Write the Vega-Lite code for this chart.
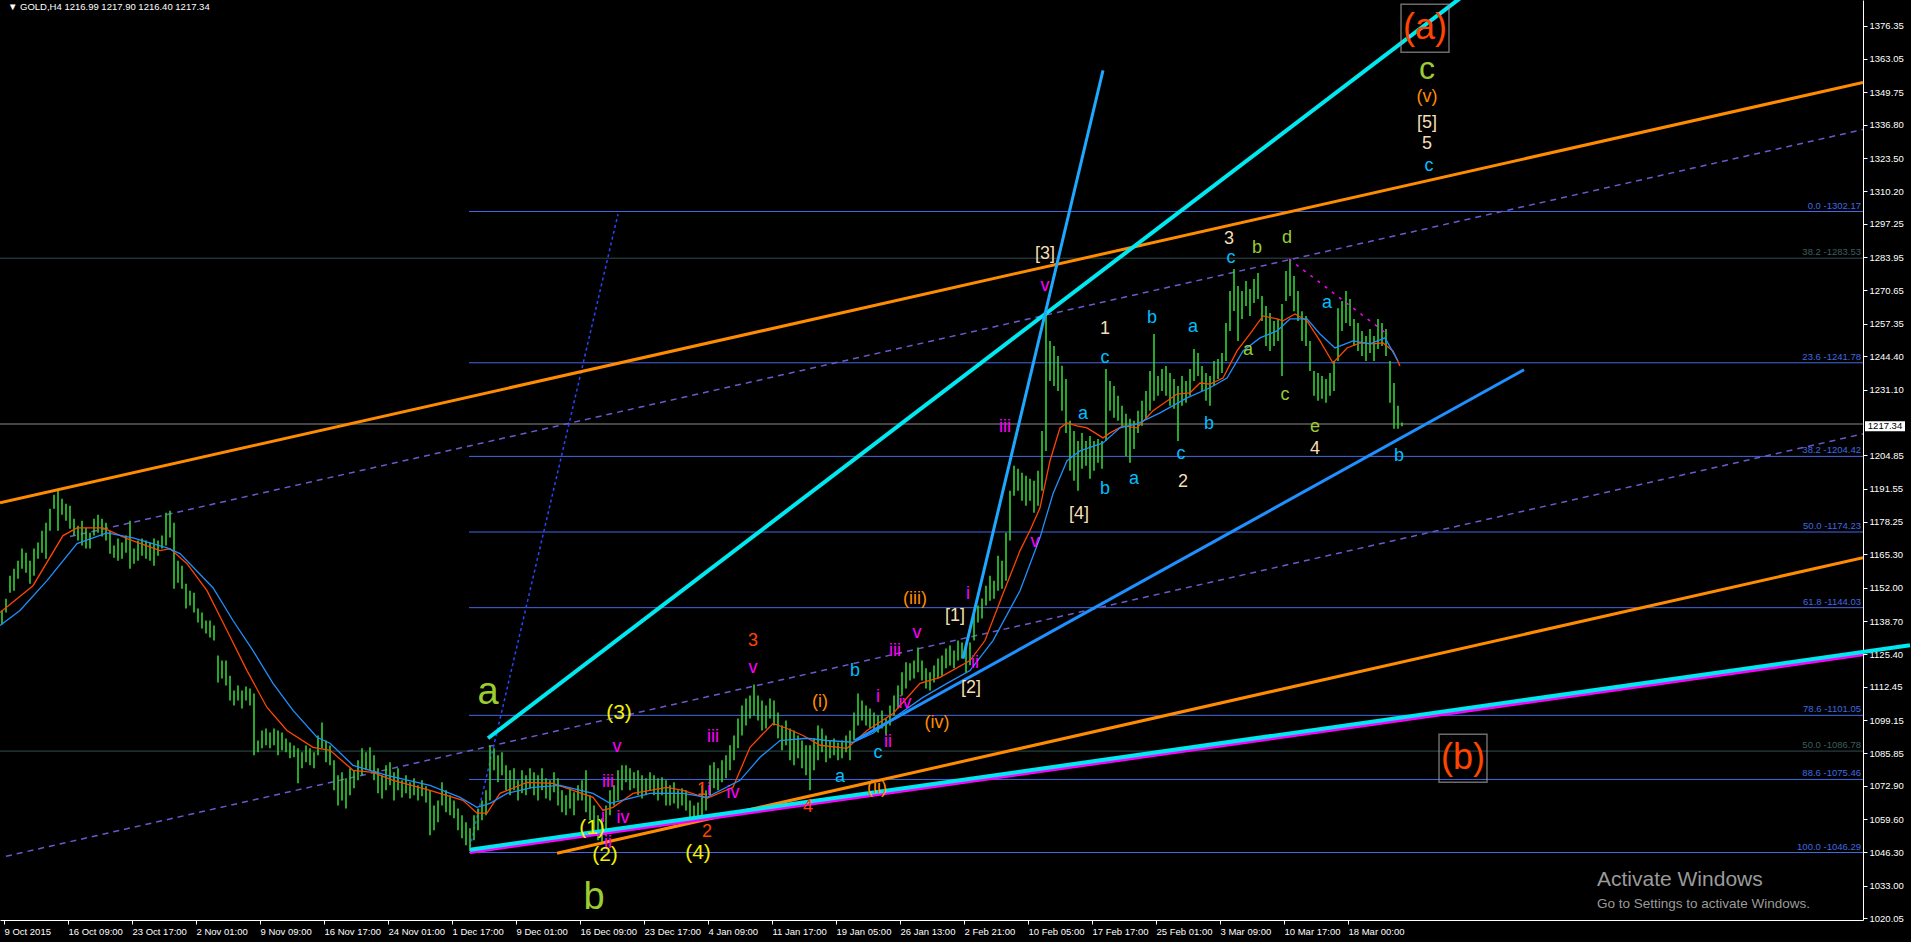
{
"$schema": "https://vega.github.io/schema/vega-lite/v6.json",
"width": 1863, "height": 920,
"autosize": {"type": "none"},
"padding": {"left": 0, "top": 0, "right": 48, "bottom": 22},
"background": "#000000",
"config": {"view": {"stroke": null}, "font": "Liberation Sans",
 "axis": {"domainColor": "#ffffff", "tickColor": "#ffffff", "labelColor": "#ffffff", "grid": false, "labelFont": "Liberation Sans", "labelFontSize": 9.5, "tickSize": 4, "labelPadding": 2, "titleColor": "#ffffff"}},
"encoding": {
"x": {"field": "t", "type": "quantitative", "scale": {"domain": [0, 931.5], "nice": false, "zero": false},
 "axis": {"orient": "bottom", "title": null, "values": [2,34,66,98,130,162,194,226,258,290,322,354,386,418,450,482,514,546,578,610,642,674],
  "labelExpr": "['9 Oct 2015','16 Oct 09:00','23 Oct 17:00','2 Nov 01:00','9 Nov 09:00','16 Nov 17:00','24 Nov 01:00','1 Dec 17:00','9 Dec 01:00','16 Dec 09:00','23 Dec 17:00','4 Jan 09:00','11 Jan 17:00','19 Jan 05:00','26 Jan 13:00','2 Feb 21:00','10 Feb 05:00','17 Feb 17:00','25 Feb 01:00','3 Mar 09:00','10 Mar 17:00','18 Mar 00:00'][round((datum.value-2)/32)]",
  "labelAlign": "left", "labelBaseline": "top", "labelOverlap": false}},
"y": {"field": "p", "type": "quantitative", "scale": {"domain": [1019.35, 1386.6], "nice": false, "zero": false},
 "axis": {"orient": "right", "title": null, "values": [1376.35,1363.05,1349.75,1336.80,1323.50,1310.20,1297.25,1283.95,1270.65,1257.35,1244.40,1231.10,1204.85,1191.55,1178.25,1165.30,1152.00,1138.70,1125.40,1112.45,1099.15,1085.85,1072.90,1059.60,1046.30,1033.00,1020.05],
  "format": ".2f", "labelOverlap": false, "labelAlign": "left"}}
},
"datasets": {
"bars": [
{"t":1,"p":1142.9,"l":1137.3},{"t":3,"p":1147.6,"l":1142.1},{"t":5,"p":1156.8,"l":1150.0},{"t":7,"p":1159.6,"l":1150.8},{"t":9,"p":1162.8,"l":1155.6},{"t":11,"p":1167.6,"l":1159.6},{"t":13,"p":1166.0,"l":1158.0},{"t":15,"p":1162.8,"l":1153.6},{"t":17,"p":1167.6,"l":1156.8},{"t":19,"p":1170.0,"l":1163.6},
{"t":21,"p":1174.7,"l":1166.0},{"t":23,"p":1177.9,"l":1163.6},{"t":25,"p":1183.5,"l":1174.7},{"t":27,"p":1189.1,"l":1183.5},{"t":29,"p":1191.5,"l":1174.7},{"t":31,"p":1187.5,"l":1181.1},{"t":33,"p":1185.5,"l":1178.7},{"t":35,"p":1184.7,"l":1175.5},{"t":37,"p":1179.5,"l":1172.8},{"t":39,"p":1176.7,"l":1170.8},
{"t":41,"p":1178.7,"l":1168.8},{"t":43,"p":1175.9,"l":1167.6},{"t":45,"p":1173.9,"l":1167.6},{"t":47,"p":1179.5,"l":1172.8},{"t":49,"p":1181.1,"l":1173.9},{"t":51,"p":1179.5,"l":1172.4},{"t":53,"p":1177.9,"l":1170.8},{"t":55,"p":1174.7,"l":1165.6},{"t":57,"p":1168.8,"l":1164.0},{"t":59,"p":1171.6,"l":1162.8},
{"t":61,"p":1170.0,"l":1163.6},{"t":63,"p":1172.8,"l":1166.0},{"t":65,"p":1178.7,"l":1159.6},{"t":67,"p":1167.6,"l":1161.6},{"t":69,"p":1170.8,"l":1162.8},{"t":71,"p":1171.6,"l":1164.8},{"t":73,"p":1170.8,"l":1163.6},{"t":75,"p":1170.0,"l":1162.8},{"t":77,"p":1171.6,"l":1160.8},{"t":79,"p":1170.8,"l":1164.8},
{"t":81,"p":1172.8,"l":1167.6},{"t":83,"p":1181.9,"l":1168.8},{"t":85,"p":1182.7,"l":1172.0},{"t":87,"p":1177.9,"l":1151.6},{"t":89,"p":1162.8,"l":1154.0},{"t":91,"p":1160.8,"l":1151.6},{"t":93,"p":1153.6,"l":1143.7},{"t":95,"p":1150.8,"l":1144.9},{"t":97,"p":1150.0,"l":1142.1},{"t":99,"p":1143.7,"l":1138.1},
{"t":101,"p":1142.1,"l":1135.7},{"t":103,"p":1138.9,"l":1133.7},{"t":105,"p":1138.9,"l":1132.1},{"t":107,"p":1136.9,"l":1130.9},{"t":109,"p":1124.9,"l":1114.2},{"t":111,"p":1122.9,"l":1115.8},{"t":113,"p":1122.9,"l":1113.0},{"t":115,"p":1116.9,"l":1107.0},{"t":117,"p":1111.0,"l":1105.0},{"t":119,"p":1113.0,"l":1107.0},
{"t":121,"p":1111.0,"l":1103.8},{"t":123,"p":1112.6,"l":1107.0},{"t":125,"p":1111.8,"l":1105.0},{"t":127,"p":1109.8,"l":1085.1},{"t":129,"p":1091.0,"l":1086.3},{"t":131,"p":1095.0,"l":1087.9},{"t":133,"p":1095.8,"l":1089.1},{"t":135,"p":1094.2,"l":1087.9},{"t":137,"p":1095.8,"l":1089.1},{"t":139,"p":1095.0,"l":1085.1},
{"t":141,"p":1094.2,"l":1087.1},{"t":143,"p":1091.8,"l":1086.3},{"t":145,"p":1090.2,"l":1083.9},{"t":147,"p":1089.0,"l":1084.3},{"t":149,"p":1087.9,"l":1073.9},{"t":151,"p":1086.3,"l":1079.9},{"t":153,"p":1089.0,"l":1082.3},{"t":155,"p":1087.9,"l":1081.1},{"t":157,"p":1086.3,"l":1079.9},{"t":159,"p":1093.0,"l":1085.1},
{"t":161,"p":1098.2,"l":1087.9},{"t":163,"p":1091.0,"l":1082.3},{"t":165,"p":1089.0,"l":1081.1},{"t":167,"p":1083.1,"l":1071.1},{"t":169,"p":1077.1,"l":1065.1},{"t":171,"p":1078.3,"l":1067.1},{"t":173,"p":1075.9,"l":1063.9},{"t":175,"p":1079.9,"l":1069.1},{"t":177,"p":1079.1,"l":1071.9},{"t":179,"p":1083.1,"l":1075.1},
{"t":181,"p":1087.9,"l":1077.1},{"t":183,"p":1086.3,"l":1079.1},{"t":185,"p":1088.3,"l":1079.1},{"t":187,"p":1085.1,"l":1075.1},{"t":189,"p":1079.9,"l":1069.9},{"t":191,"p":1077.1,"l":1067.9},{"t":193,"p":1081.1,"l":1071.1},{"t":195,"p":1082.3,"l":1073.1},{"t":197,"p":1078.3,"l":1067.1},{"t":199,"p":1079.9,"l":1071.1},
{"t":201,"p":1075.1,"l":1068.3},{"t":203,"p":1077.1,"l":1069.9},{"t":205,"p":1074.3,"l":1067.9},{"t":207,"p":1075.9,"l":1069.1},{"t":209,"p":1073.1,"l":1067.1},{"t":211,"p":1075.1,"l":1068.7},{"t":213,"p":1072.7,"l":1066.3},{"t":215,"p":1071.1,"l":1053.2},{"t":217,"p":1065.1,"l":1055.2},{"t":219,"p":1067.1,"l":1058.4},
{"t":221,"p":1074.3,"l":1065.1},{"t":223,"p":1071.1,"l":1062.4},{"t":225,"p":1069.1,"l":1061.2},{"t":227,"p":1067.1,"l":1060.0},{"t":229,"p":1063.9,"l":1055.2},{"t":231,"p":1061.2,"l":1052.0},{"t":233,"p":1058.4,"l":1049.2},{"t":235,"p":1056.0,"l":1046.8},{"t":237,"p":1061.2,"l":1051.2},{"t":239,"p":1063.9,"l":1055.2},
{"t":241,"p":1067.1,"l":1059.2},{"t":243,"p":1071.1,"l":1061.2},{"t":245,"p":1089.1,"l":1067.1},{"t":247,"p":1087.9,"l":1079.1},{"t":249,"p":1085.1,"l":1074.3},{"t":251,"p":1086.3,"l":1077.1},{"t":253,"p":1081.1,"l":1071.1},{"t":255,"p":1079.1,"l":1069.1},{"t":257,"p":1079.9,"l":1071.1},{"t":259,"p":1075.1,"l":1067.1},
{"t":261,"p":1079.1,"l":1069.9},{"t":263,"p":1077.1,"l":1069.1},{"t":265,"p":1079.9,"l":1071.9},{"t":267,"p":1078.3,"l":1069.1},{"t":269,"p":1077.1,"l":1067.1},{"t":271,"p":1079.9,"l":1071.1},{"t":273,"p":1075.9,"l":1067.9},{"t":275,"p":1075.1,"l":1067.1},{"t":277,"p":1078.3,"l":1070.3},{"t":279,"p":1075.9,"l":1065.1},
{"t":281,"p":1071.1,"l":1062.4},{"t":283,"p":1069.1,"l":1061.2},{"t":285,"p":1071.9,"l":1063.9},{"t":287,"p":1070.3,"l":1061.2},{"t":289,"p":1073.1,"l":1067.1},{"t":291,"p":1075.1,"l":1067.1},{"t":293,"p":1079.1,"l":1062.4},{"t":295,"p":1069.1,"l":1059.2},{"t":297,"p":1065.1,"l":1055.2},{"t":299,"p":1061.2,"l":1051.2},
{"t":301,"p":1060.0,"l":1050.0},{"t":303,"p":1065.1,"l":1053.2},{"t":305,"p":1071.1,"l":1061.2},{"t":307,"p":1073.1,"l":1065.1},{"t":309,"p":1079.1,"l":1067.1},{"t":311,"p":1081.1,"l":1071.1},{"t":313,"p":1081.1,"l":1074.3},{"t":315,"p":1079.9,"l":1071.1},{"t":317,"p":1078.3,"l":1071.9},{"t":319,"p":1079.1,"l":1069.1},
{"t":321,"p":1077.1,"l":1067.9},{"t":323,"p":1075.9,"l":1069.1},{"t":325,"p":1078.3,"l":1071.1},{"t":327,"p":1077.1,"l":1069.1},{"t":329,"p":1075.9,"l":1067.1},{"t":331,"p":1076.3,"l":1069.1},{"t":333,"p":1075.1,"l":1065.1},{"t":335,"p":1073.1,"l":1065.1},{"t":337,"p":1074.3,"l":1065.9},{"t":339,"p":1071.1,"l":1063.9},
{"t":341,"p":1071.9,"l":1065.1},{"t":343,"p":1071.1,"l":1063.1},{"t":345,"p":1067.1,"l":1060.0},{"t":347,"p":1065.1,"l":1059.2},{"t":349,"p":1066.3,"l":1060.0},{"t":351,"p":1073.1,"l":1061.2},{"t":353,"p":1071.1,"l":1063.1},{"t":355,"p":1081.1,"l":1069.1},{"t":357,"p":1082.3,"l":1071.9},{"t":359,"p":1079.9,"l":1071.1},
{"t":361,"p":1083.1,"l":1074.3},{"t":363,"p":1085.1,"l":1075.9},{"t":365,"p":1089.1,"l":1079.1},{"t":367,"p":1093.0,"l":1083.1},{"t":369,"p":1099.8,"l":1087.9},{"t":371,"p":1105.0,"l":1093.0},{"t":373,"p":1107.8,"l":1097.0},{"t":375,"p":1109.0,"l":1099.8},{"t":377,"p":1113.4,"l":1101.0},{"t":379,"p":1109.0,"l":1099.0},
{"t":381,"p":1107.0,"l":1095.0},{"t":383,"p":1105.0,"l":1095.8},{"t":385,"p":1107.8,"l":1099.8},{"t":387,"p":1107.0,"l":1097.0},{"t":389,"p":1102.2,"l":1091.9},{"t":391,"p":1097.0,"l":1087.1},{"t":393,"p":1099.0,"l":1089.1},{"t":395,"p":1095.8,"l":1083.1},{"t":397,"p":1095.0,"l":1081.1},{"t":399,"p":1093.0,"l":1083.9},
{"t":401,"p":1091.0,"l":1079.9},{"t":403,"p":1089.1,"l":1077.1},{"t":405,"p":1089.1,"l":1071.1},{"t":407,"p":1091.9,"l":1079.1},{"t":409,"p":1097.0,"l":1083.1},{"t":411,"p":1095.8,"l":1086.3},{"t":413,"p":1093.0,"l":1082.3},{"t":415,"p":1091.0,"l":1083.9},{"t":417,"p":1091.8,"l":1085.1},{"t":419,"p":1090.2,"l":1083.1},
{"t":421,"p":1091.0,"l":1083.9},{"t":423,"p":1093.0,"l":1086.3},{"t":425,"p":1095.0,"l":1083.1},{"t":427,"p":1102.2,"l":1091.0},{"t":429,"p":1109.8,"l":1097.0},{"t":431,"p":1107.0,"l":1099.0},{"t":433,"p":1105.0,"l":1097.0},{"t":435,"p":1103.8,"l":1095.8},{"t":437,"p":1102.2,"l":1095.0},{"t":439,"p":1101.0,"l":1094.2},
{"t":441,"p":1103.0,"l":1095.8},{"t":443,"p":1099.8,"l":1093.0},{"t":445,"p":1105.0,"l":1097.0},{"t":447,"p":1109.0,"l":1101.0},{"t":449,"p":1113.0,"l":1103.8},{"t":451,"p":1118.2,"l":1109.0},{"t":453,"p":1122.2,"l":1111.8},{"t":455,"p":1121.8,"l":1115.0},{"t":457,"p":1122.9,"l":1115.8},{"t":459,"p":1128.1,"l":1118.2},
{"t":461,"p":1122.9,"l":1115.0},{"t":463,"p":1119.8,"l":1111.8},{"t":465,"p":1118.2,"l":1111.0},{"t":467,"p":1120.9,"l":1114.2},{"t":469,"p":1123.7,"l":1115.8},{"t":471,"p":1124.9,"l":1116.9},{"t":473,"p":1127.7,"l":1119.8},{"t":475,"p":1128.9,"l":1120.9},{"t":477,"p":1126.9,"l":1119.8},{"t":479,"p":1130.9,"l":1122.9},
{"t":481,"p":1130.1,"l":1123.7},{"t":483,"p":1128.9,"l":1118.0},{"t":485,"p":1130.1,"l":1121.0},{"t":487,"p":1142.9,"l":1130.9},{"t":489,"p":1144.9,"l":1138.1},{"t":491,"p":1147.7,"l":1139.7},{"t":493,"p":1152.8,"l":1144.9},{"t":495,"p":1156.8,"l":1146.8},{"t":497,"p":1154.8,"l":1147.6},{"t":499,"p":1164.8,"l":1150.8},
{"t":501,"p":1162.8,"l":1151.6},{"t":503,"p":1173.9,"l":1154.8},{"t":505,"p":1190.7,"l":1170.8},{"t":507,"p":1200.7,"l":1188.7},{"t":509,"p":1199.5,"l":1190.7},{"t":511,"p":1197.9,"l":1186.7},{"t":513,"p":1196.7,"l":1184.7},{"t":515,"p":1195.5,"l":1186.7},{"t":517,"p":1194.7,"l":1181.9},{"t":519,"p":1198.7,"l":1184.7},
{"t":521,"p":1214.6,"l":1190.7},{"t":523,"p":1262.5,"l":1206.6},{"t":525,"p":1250.5,"l":1234.5},{"t":527,"p":1248.5,"l":1232.5},{"t":529,"p":1244.5,"l":1230.5},{"t":531,"p":1240.6,"l":1222.6},{"t":533,"p":1235.3,"l":1213.8},{"t":535,"p":1218.6,"l":1198.7},{"t":537,"p":1214.6,"l":1194.7},{"t":539,"p":1210.6,"l":1190.7},
{"t":541,"p":1213.8,"l":1199.5},{"t":543,"p":1210.6,"l":1200.7},{"t":545,"p":1212.6,"l":1195.5},{"t":547,"p":1210.6,"l":1198.7},{"t":549,"p":1211.4,"l":1201.9},{"t":551,"p":1210.6,"l":1199.5},{"t":553,"p":1239.3,"l":1210.6},{"t":555,"p":1234.5,"l":1222.6},{"t":557,"p":1232.5,"l":1219.8},{"t":559,"p":1228.6,"l":1218.6},
{"t":561,"p":1224.6,"l":1216.6},{"t":563,"p":1221.4,"l":1204.6},{"t":565,"p":1219.4,"l":1201.9},{"t":567,"p":1218.6,"l":1207.4},{"t":569,"p":1222.6,"l":1213.8},{"t":571,"p":1226.6,"l":1216.6},{"t":573,"p":1230.5,"l":1219.4},{"t":575,"p":1238.5,"l":1222.6},{"t":577,"p":1253.3,"l":1226.6},{"t":579,"p":1236.5,"l":1228.6},
{"t":581,"p":1239.3,"l":1230.5},{"t":583,"p":1240.5,"l":1228.6},{"t":585,"p":1237.7,"l":1224.6},{"t":587,"p":1235.3,"l":1223.4},{"t":589,"p":1232.5,"l":1210.6},{"t":591,"p":1236.5,"l":1224.6},{"t":593,"p":1234.5,"l":1225.8},{"t":595,"p":1239.3,"l":1228.6},{"t":597,"p":1247.3,"l":1234.5},{"t":599,"p":1245.7,"l":1236.5},
{"t":601,"p":1240.5,"l":1230.5},{"t":603,"p":1237.7,"l":1226.6},{"t":605,"p":1236.5,"l":1224.6},{"t":607,"p":1242.5,"l":1232.5},{"t":609,"p":1243.3,"l":1235.3},{"t":611,"p":1245.7,"l":1237.7},{"t":613,"p":1257.7,"l":1242.5},{"t":615,"p":1270.4,"l":1254.5},{"t":617,"p":1279.2,"l":1262.5},{"t":619,"p":1272.4,"l":1250.5},
{"t":621,"p":1270.4,"l":1259.3},{"t":623,"p":1274.4,"l":1264.4},{"t":625,"p":1271.2,"l":1260.5},{"t":627,"p":1275.2,"l":1265.6},{"t":629,"p":1277.6,"l":1267.2},{"t":631,"p":1268.4,"l":1258.5},{"t":633,"p":1264.4,"l":1248.5},{"t":635,"p":1261.7,"l":1246.5},{"t":637,"p":1258.5,"l":1248.5},{"t":639,"p":1259.3,"l":1250.5},
{"t":641,"p":1265.2,"l":1236.5},{"t":643,"p":1278.4,"l":1266.4},{"t":645,"p":1283.2,"l":1268.4},{"t":647,"p":1276.4,"l":1262.4},{"t":649,"p":1270.4,"l":1258.5},{"t":651,"p":1262.4,"l":1250.5},{"t":653,"p":1260.5,"l":1248.5},{"t":655,"p":1250.5,"l":1238.5},{"t":657,"p":1238.5,"l":1228.6},{"t":659,"p":1237.7,"l":1226.6},
{"t":661,"p":1236.5,"l":1227.4},{"t":663,"p":1235.3,"l":1225.8},{"t":665,"p":1237.7,"l":1228.6},{"t":667,"p":1242.5,"l":1230.5},{"t":669,"p":1263.6,"l":1242.5},{"t":671,"p":1266.4,"l":1254.5},{"t":673,"p":1270.4,"l":1257.7},{"t":675,"p":1267.2,"l":1256.5},{"t":677,"p":1259.3,"l":1248.5},{"t":679,"p":1257.7,"l":1246.5},
{"t":681,"p":1254.5,"l":1244.5},{"t":683,"p":1252.5,"l":1242.5},{"t":685,"p":1255.3,"l":1245.7},{"t":687,"p":1252.5,"l":1242.5},{"t":689,"p":1259.3,"l":1247.3},{"t":691,"p":1257.7,"l":1248.5},{"t":693,"p":1255.3,"l":1244.5},{"t":695,"p":1242.5,"l":1225.8},{"t":697,"p":1233.7,"l":1215.4},{"t":699,"p":1224.6,"l":1215.4},
{"t":701,"p":1217.9,"l":1216.4}
],
"mar": [
{"t":0,"p":1142.1},{"t":16.5,"p":1152.8},{"t":31.5,"p":1172.8},{"t":38.5,"p":1175.9},{"t":51.5,"p":1175.9},{"t":63.5,"p":1171.6},{"t":80,"p":1166.8},{"t":85,"p":1167.6},{"t":93.5,"p":1161.6},{"t":103.5,"p":1150.8},{"t":113.5,"p":1134.9},{"t":123.5,"p":1118.9},{"t":133.5,"p":1104.2},{"t":143.5,"p":1095.0},{"t":156.5,"p":1088.3},{"t":165,"p":1087.1},{"t":176.5,"p":1079.1},{"t":186.5,"p":1078.3},{"t":196.5,"p":1075.1},{"t":215,"p":1071.1},{"t":231.5,"p":1067.1},{"t":238.5,"p":1062.0},{"t":243.5,"p":1062.0},{"t":250,"p":1069.9},{"t":263.5,"p":1074.3},{"t":276.5,"p":1073.9},{"t":286.5,"p":1071.1},{"t":296.5,"p":1068.3},{"t":301.5,"p":1063.1},{"t":306.5,"p":1064.3},{"t":316.5,"p":1069.9},{"t":325,"p":1071.1},{"t":333.5,"p":1072.3},{"t":341.5,"p":1071.1},{"t":353.5,"p":1067.9},{"t":366.5,"p":1072.3},{"t":375,"p":1088.3},{"t":386.5,"p":1097.8},{"t":393.5,"p":1095.8},{"t":401.5,"p":1093.0},{"t":410,"p":1089.1},{"t":423.5,"p":1087.9},{"t":433.5,"p":1095.0},{"t":446.5,"p":1101.8},{"t":460,"p":1113.8},{"t":470,"p":1116.2},{"t":485,"p":1122.9},{"t":492.5,"p":1130.9},{"t":501.5,"p":1149.6},{"t":510,"p":1166.8},{"t":515,"p":1174.8},{"t":520,"p":1183.9},{"t":525,"p":1202.7},{"t":530,"p":1215.8},{"t":533.5,"p":1217.8},{"t":538.5,"p":1216.6},{"t":543.5,"p":1215.8},{"t":551.5,"p":1211.8},{"t":555,"p":1213.8},{"t":561.5,"p":1216.6},{"t":568.5,"p":1215.8},{"t":576.5,"p":1222.6},{"t":588.5,"p":1229.3},{"t":595,"p":1229.8},{"t":600,"p":1233.7},{"t":605,"p":1233.3},{"t":611.5,"p":1235.7},{"t":618.5,"p":1246.5},{"t":625,"p":1253.3},{"t":631.5,"p":1260.5},{"t":638.5,"p":1259.3},{"t":641.5,"p":1258.5},{"t":647.5,"p":1261.3},{"t":653.5,"p":1258.5},{"t":660,"p":1250.5},{"t":666.5,"p":1241.7},{"t":673.5,"p":1247.7},{"t":680,"p":1249.7},{"t":686.5,"p":1249.3},{"t":691.5,"p":1249.7},{"t":696.5,"p":1246.5},{"t":700,"p":1240.5}
],
"mab": [
{"t":0,"p":1136.9},{"t":10,"p":1142.9},{"t":23.5,"p":1154.8},{"t":38.5,"p":1169.6},{"t":53.5,"p":1173.9},{"t":66.5,"p":1171.9},{"t":83.5,"p":1167.9},{"t":90,"p":1165.6},{"t":106.5,"p":1152.0},{"t":116.5,"p":1138.9},{"t":126.5,"p":1126.9},{"t":136.5,"p":1113.8},{"t":146.5,"p":1103.0},{"t":158.5,"p":1092.3},{"t":165,"p":1089.9},{"t":176.5,"p":1081.1},{"t":193.5,"p":1077.1},{"t":215,"p":1073.1},{"t":230,"p":1068.3},{"t":238.5,"p":1064.3},{"t":245,"p":1065.9},{"t":253.5,"p":1069.9},{"t":266.5,"p":1072.3},{"t":280,"p":1073.1},{"t":296.5,"p":1069.9},{"t":305,"p":1065.9},{"t":315,"p":1067.9},{"t":325,"p":1069.9},{"t":341.5,"p":1069.9},{"t":353.5,"p":1068.3},{"t":370,"p":1075.1},{"t":380,"p":1084.3},{"t":390,"p":1091.0},{"t":403.5,"p":1091.9},{"t":413.5,"p":1091.0},{"t":426.5,"p":1090.3},{"t":436.5,"p":1093.9},{"t":450,"p":1101.8},{"t":461.5,"p":1108.2},{"t":473.5,"p":1113.8},{"t":485,"p":1118.9},{"t":496.5,"p":1130.9},{"t":510,"p":1150.8},{"t":520,"p":1172.0},{"t":526.5,"p":1189.5},{"t":533.5,"p":1202.7},{"t":540,"p":1206.6},{"t":551.5,"p":1209.8},{"t":560,"p":1215.8},{"t":568.5,"p":1217.4},{"t":580,"p":1221.8},{"t":593.5,"p":1227.8},{"t":605,"p":1231.8},{"t":613.5,"p":1235.7},{"t":621.5,"p":1246.5},{"t":630,"p":1251.7},{"t":638.5,"p":1254.5},{"t":645,"p":1259.3},{"t":653.5,"p":1259.3},{"t":660,"p":1253.3},{"t":667.5,"p":1247.7},{"t":676.5,"p":1250.5},{"t":685,"p":1249.3},{"t":692.5,"p":1251.7},{"t":699,"p":1242.5}
],
"labels": [
{"t":308.5,"p":1088.3,"s":"v","k":"mag"},{"t":304,"p":1074.3,"s":"iii","k":"mag"},{"t":311.5,"p":1060.0,"s":"iv","k":"mag"},{"t":301.5,"p":1060.4,"s":"i","k":"mag"},{"t":304,"p":1050.0,"s":"ii","k":"mag"},
{"t":376.5,"p":1130.9,"s":"3","k":"red"},{"t":376.5,"p":1119.8,"s":"v","k":"mag"},{"t":427.5,"p":1118.9,"s":"b","k":"sky"},{"t":410,"p":1106.2,"s":"(i)","k":"org"},{"t":439,"p":1108.2,"s":"i","k":"mag"},
{"t":356.5,"p":1092.3,"s":"iii","k":"mag"},{"t":452.5,"p":1105.8,"s":"iv","k":"mag"},{"t":444,"p":1090.3,"s":"ii","k":"mag"},{"t":439,"p":1085.9,"s":"c","k":"sky"},{"t":420,"p":1076.3,"s":"a","k":"sky"},
{"t":438.5,"p":1071.9,"s":"(ii)","k":"org"},{"t":351,"p":1071.1,"s":"1","k":"red"},{"t":354.5,"p":1071.1,"s":"i","k":"mag"},{"t":366.5,"p":1069.9,"s":"iv","k":"mag"},{"t":404,"p":1064.3,"s":"4","k":"red"},
{"t":353.5,"p":1054.4,"s":"2","k":"red"},{"t":457.5,"p":1147.3,"s":"(iii)","k":"org"},{"t":477.5,"p":1140.9,"s":"[1]","k":"wh"},{"t":458.5,"p":1134.1,"s":"v","k":"mag"},{"t":447.5,"p":1126.9,"s":"iii","k":"mag"},
{"t":468.5,"p":1097.8,"s":"(iv)","k":"org"},{"t":484,"p":1149.6,"s":"i","k":"mag"},{"t":487.5,"p":1122.1,"s":"ii","k":"mag"},{"t":485.5,"p":1111.8,"s":"[2]","k":"wh"},{"t":522.5,"p":1285.2,"s":"[3]","k":"wh"},
{"t":522.5,"p":1272.4,"s":"v","k":"mag"},{"t":552.5,"p":1255.3,"s":"1","k":"wh"},{"t":552.5,"p":1243.7,"s":"c","k":"sky"},{"t":541.5,"p":1221.4,"s":"a","k":"sky"},{"t":502.5,"p":1216.2,"s":"iii","k":"mag"},
{"t":552.5,"p":1191.5,"s":"b","k":"sky"},{"t":539.5,"p":1181.5,"s":"[4]","k":"wh"},{"t":517.5,"p":1170.4,"s":"v","k":"mag"},{"t":614.5,"p":1291.2,"s":"3","k":"wh"},{"t":628.5,"p":1287.6,"s":"b","k":"yg"},
{"t":615.5,"p":1283.6,"s":"c","k":"sky"},{"t":576,"p":1259.7,"s":"b","k":"sky"},{"t":596.5,"p":1256.1,"s":"a","k":"sky"},{"t":624,"p":1246.9,"s":"a","k":"yg"},{"t":604.5,"p":1217.4,"s":"b","k":"sky"},
{"t":590.5,"p":1205.5,"s":"c","k":"sky"},{"t":567,"p":1195.5,"s":"a","k":"sky"},{"t":591.5,"p":1194.3,"s":"2","k":"wh"},{"t":643.5,"p":1291.5,"s":"d","k":"yg"},{"t":663.5,"p":1265.6,"s":"a","k":"sky"},
{"t":642.5,"p":1229.0,"s":"c","k":"yg"},{"t":657.5,"p":1216.2,"s":"e","k":"yg"},{"t":657.5,"p":1207.4,"s":"4","k":"wh"},{"t":699.5,"p":1204.7,"s":"b","k":"sky"},
{"t":713.5,"p":1347.7,"s":"(v)","k":"org"},{"t":713.5,"p":1337.4,"s":"[5]","k":"wh"},{"t":713.5,"p":1329.0,"s":"5","k":"wh"},{"t":714.5,"p":1320.2,"s":"c","k":"sky"}
]
},
"layer": [
{
"data": {"values": [{"p":1283.53,"t":0,"t2":931.5},{"p":1086.78,"t":0,"t2":931.5}]},
"mark": {"type": "rule", "color": "#2F4F4F", "strokeWidth": 1},
"encoding": {"x2": {"field": "t2"}}
},
{
"data": {"values": [{"p":1302.17,"t":234.5,"t2":931.5},{"p":1241.78,"t":234.5,"t2":931.5},{"p":1204.42,"t":234.5,"t2":931.5},{"p":1174.23,"t":234.5,"t2":931.5},{"p":1144.03,"t":234.5,"t2":931.5},{"p":1101.05,"t":234.5,"t2":931.5},{"p":1075.46,"t":234.5,"t2":931.5},{"p":1046.29,"t":234.5,"t2":931.5}]},
"mark": {"type": "rule", "color": "#4169E1", "strokeWidth": 1},
"encoding": {"x2": {"field": "t2"}}
},
{
"data": {"values": [{"p":1217.34,"t":0,"t2":931.5}]},
"mark": {"type": "rule", "color": "#8C8C8C", "strokeWidth": 1},
"encoding": {"x2": {"field": "t2"}}
},
{
"data": {"values": [{"t":35,"p":1172.4,"t2":931.5,"p2":1334.9},{"t":3,"p":1044.8,"t2":931.5,"p2":1213.4}]},
"mark": {"type": "rule", "color": "#6A5ACD", "strokeWidth": 1.5, "strokeDash": [6, 5], "clip": true},
"encoding": {"x2": {"field": "t2"}, "y2": {"field": "p2"}}
},
{
"data": {"values": [{"t":235,"p":1048.4,"t2":309,"p2":1301.1}]},
"mark": {"type": "rule", "color": "#2846FF", "strokeWidth": 1.5, "strokeDash": [3, 3], "clip": true},
"encoding": {"x2": {"field": "t2"}, "y2": {"field": "p2"}}
},
{
"data": {"name": "bars"},
"mark": {"type": "rule", "color": "#32D232", "strokeWidth": 1.6},
"encoding": {"y2": {"field": "l"}}
},
{
"data": {"name": "mar"},
"mark": {"type": "line", "color": "#FF4500", "strokeWidth": 1.3},
"encoding": {}
},
{
"data": {"name": "mab"},
"mark": {"type": "line", "color": "#1E90FF", "strokeWidth": 1.3},
"encoding": {}
},
{
"data": {"values": [{"t":0,"p":1185.9,"t2":931.5,"p2":1353.7},{"t":278.5,"p":1046.0,"t2":931.5,"p2":1164.0}]},
"mark": {"type": "rule", "color": "#FF8C00", "strokeWidth": 3, "clip": true},
"encoding": {"x2": {"field": "t2"}, "y2": {"field": "p2"}}
},
{
"data": {"values": [{"t":235,"p":1046.3,"t2":931.5,"p2":1125.2}]},
"mark": {"type": "rule", "color": "#FF00FF", "strokeWidth": 3, "clip": true},
"encoding": {"x2": {"field": "t2"}, "y2": {"field": "p2"}}
},
{
"data": {"values": [{"t":235,"p":1047.4,"t2":955,"p2":1129.0}]},
"mark": {"type": "rule", "color": "#00E8F0", "strokeWidth": 4},
"encoding": {"x2": {"field": "t2"}, "y2": {"field": "p2"}}
},
{
"data": {"values": [{"t":244,"p":1091.9,"t2":734.5,"p2":1390.0}]},
"mark": {"type": "rule", "color": "#00E8F0", "strokeWidth": 4, "clip": true},
"encoding": {"x2": {"field": "t2"}, "y2": {"field": "p2"}}
},
{
"data": {"values": [{"t":481.5,"p":1123.7,"t2":551.5,"p2":1358.5}]},
"mark": {"type": "rule", "color": "#1EA8FF", "strokeWidth": 3, "clip": true},
"encoding": {"x2": {"field": "t2"}, "y2": {"field": "p2"}}
},
{
"data": {"values": [{"t":427.5,"p":1091.0,"t2":762,"p2":1239.0}]},
"mark": {"type": "rule", "color": "#1E90FF", "strokeWidth": 3, "clip": true},
"encoding": {"x2": {"field": "t2"}, "y2": {"field": "p2"}}
},
{
"data": {"values": [{"t":644.5,"p":1283.2,"t2":693.5,"p2":1253.3}]},
"mark": {"type": "rule", "color": "#FF00FF", "strokeWidth": 1.5, "strokeDash": [3, 6], "clip": true},
"encoding": {"x2": {"field": "t2"}, "y2": {"field": "p2"}}
},
{
"data": {"name": "labels"},
"mark": {"type": "text", "font": "Liberation Sans", "fontSize": 18, "align": "center", "baseline": "middle"},
"encoding": {"text": {"field": "s"},
 "color": {"field": "k", "type": "nominal", "legend": null, "scale": {"domain": ["yg","mag","sky","org","red","wh"], "range": ["#9ACD32","#FF00FF","#00BFFF","#FF8C00","#FF4500","#F5DEB3"]}}}
},
{
"data": {"values": [{"t":309.5,"p":1101.8,"s":"(3)"},{"t":296,"p":1056.0,"s":"(1)"},{"t":302.5,"p":1045.2,"s":"(2)"},{"t":349,"p":1046.0,"s":"(4)"}]},
"mark": {"type": "text", "font": "Liberation Sans", "fontSize": 21, "align": "center", "baseline": "middle", "color": "#F0F000"},
"encoding": {"text": {"field": "s"}}
},
{
"data": {"values": [{"t":244,"p":1109.8,"s":"a"},{"t":297,"p":1028.1,"s":"b"}]},
"mark": {"type": "text", "font": "Liberation Sans", "fontSize": 38, "align": "center", "baseline": "middle", "color": "#9ACD32"},
"encoding": {"text": {"field": "s"}}
},
{
"data": {"values": [{"t":713.5,"p":1358.9,"s":"c"}]},
"mark": {"type": "text", "font": "Liberation Sans", "fontSize": 32, "align": "center", "baseline": "middle", "color": "#9ACD32"},
"encoding": {"text": {"field": "s"}}
},
{
"data": {"values": [{"t":712.5,"p":1375.3,"s":"(a)"},{"t":731.5,"p":1083.9,"s":"(b)"}]},
"mark": {"type": "point", "shape": "square", "size": 2300, "filled": false, "stroke": "#9A9A9A", "strokeWidth": 1.5},
"encoding": {}
},
{
"data": {"values": [{"t":712.5,"p":1375.3,"s":"(a)"},{"t":731.5,"p":1083.9,"s":"(b)"}]},
"mark": {"type": "text", "font": "Liberation Sans", "fontSize": 36, "align": "center", "baseline": "middle", "color": "#FF4500"},
"encoding": {"text": {"field": "s"}}
},
{
"data": {"values": [{"t":4,"p":1383.9,"s":"▼ GOLD,H4  1216.99 1217.90 1216.40 1217.34"}]},
"mark": {"type": "text", "font": "Liberation Sans", "fontSize": 9.5, "align": "left", "baseline": "middle", "color": "#ffffff"},
"encoding": {"text": {"field": "s"}}
},
{
"data": {"values": [{"p":1302.17,"s":"0.0 -1302.17"},{"p":1241.78,"s":"23.6 -1241.78"},{"p":1204.42,"s":"38.2 -1204.42"},{"p":1174.23,"s":"50.0 -1174.23"},{"p":1144.03,"s":"61.8 -1144.03"},{"p":1101.05,"s":"78.6 -1101.05"},{"p":1075.46,"s":"88.6 -1075.46"},{"p":1046.29,"s":"100.0 -1046.29"}]},
"mark": {"type": "text", "font": "Liberation Sans", "fontSize": 9.5, "align": "right", "baseline": "bottom", "dx": -2, "dy": -1, "color": "#4169E1"},
"encoding": {"x": {"value": "width"}, "text": {"field": "s"}}
},
{
"data": {"values": [{"p":1283.53,"s":"38.2 -1283.53"},{"p":1086.78,"s":"50.0 -1086.78"}]},
"mark": {"type": "text", "font": "Liberation Sans", "fontSize": 9.5, "align": "right", "baseline": "bottom", "dx": -2, "dy": -1, "color": "#3E5E5E"},
"encoding": {"x": {"value": "width"}, "text": {"field": "s"}}
},
{
"data": {"values": [{"t":798.5,"p":1035.3,"s":"Activate Windows"}]},
"mark": {"type": "text", "font": "Liberation Sans", "fontSize": 21, "align": "left", "baseline": "middle", "color": "#9A9A9A"},
"encoding": {"text": {"field": "s"}}
},
{
"data": {"values": [{"t":798.5,"p":1025.7,"s":"Go to Settings to activate Windows."}]},
"mark": {"type": "text", "font": "Liberation Sans", "fontSize": 13.5, "align": "left", "baseline": "middle", "color": "#9A9A9A"},
"encoding": {"text": {"field": "s"}}
},
{
"data": {"values": [{"t":942.5,"p":1216.4,"s":"1217.34"}]},
"mark": {"type": "point", "shape": "M-1,-0.25L1,-0.25L1,0.25L-1,0.25Z", "size": 1600, "filled": true, "color": "#FFFFFF", "opacity": 1},
"encoding": {}
},
{
"data": {"values": [{"t":942.5,"p":1216.4,"s":"1217.34"}]},
"mark": {"type": "text", "font": "Liberation Sans", "fontSize": 9.5, "align": "center", "baseline": "middle", "color": "#000000"},
"encoding": {"text": {"field": "s"}}
}
]
}
